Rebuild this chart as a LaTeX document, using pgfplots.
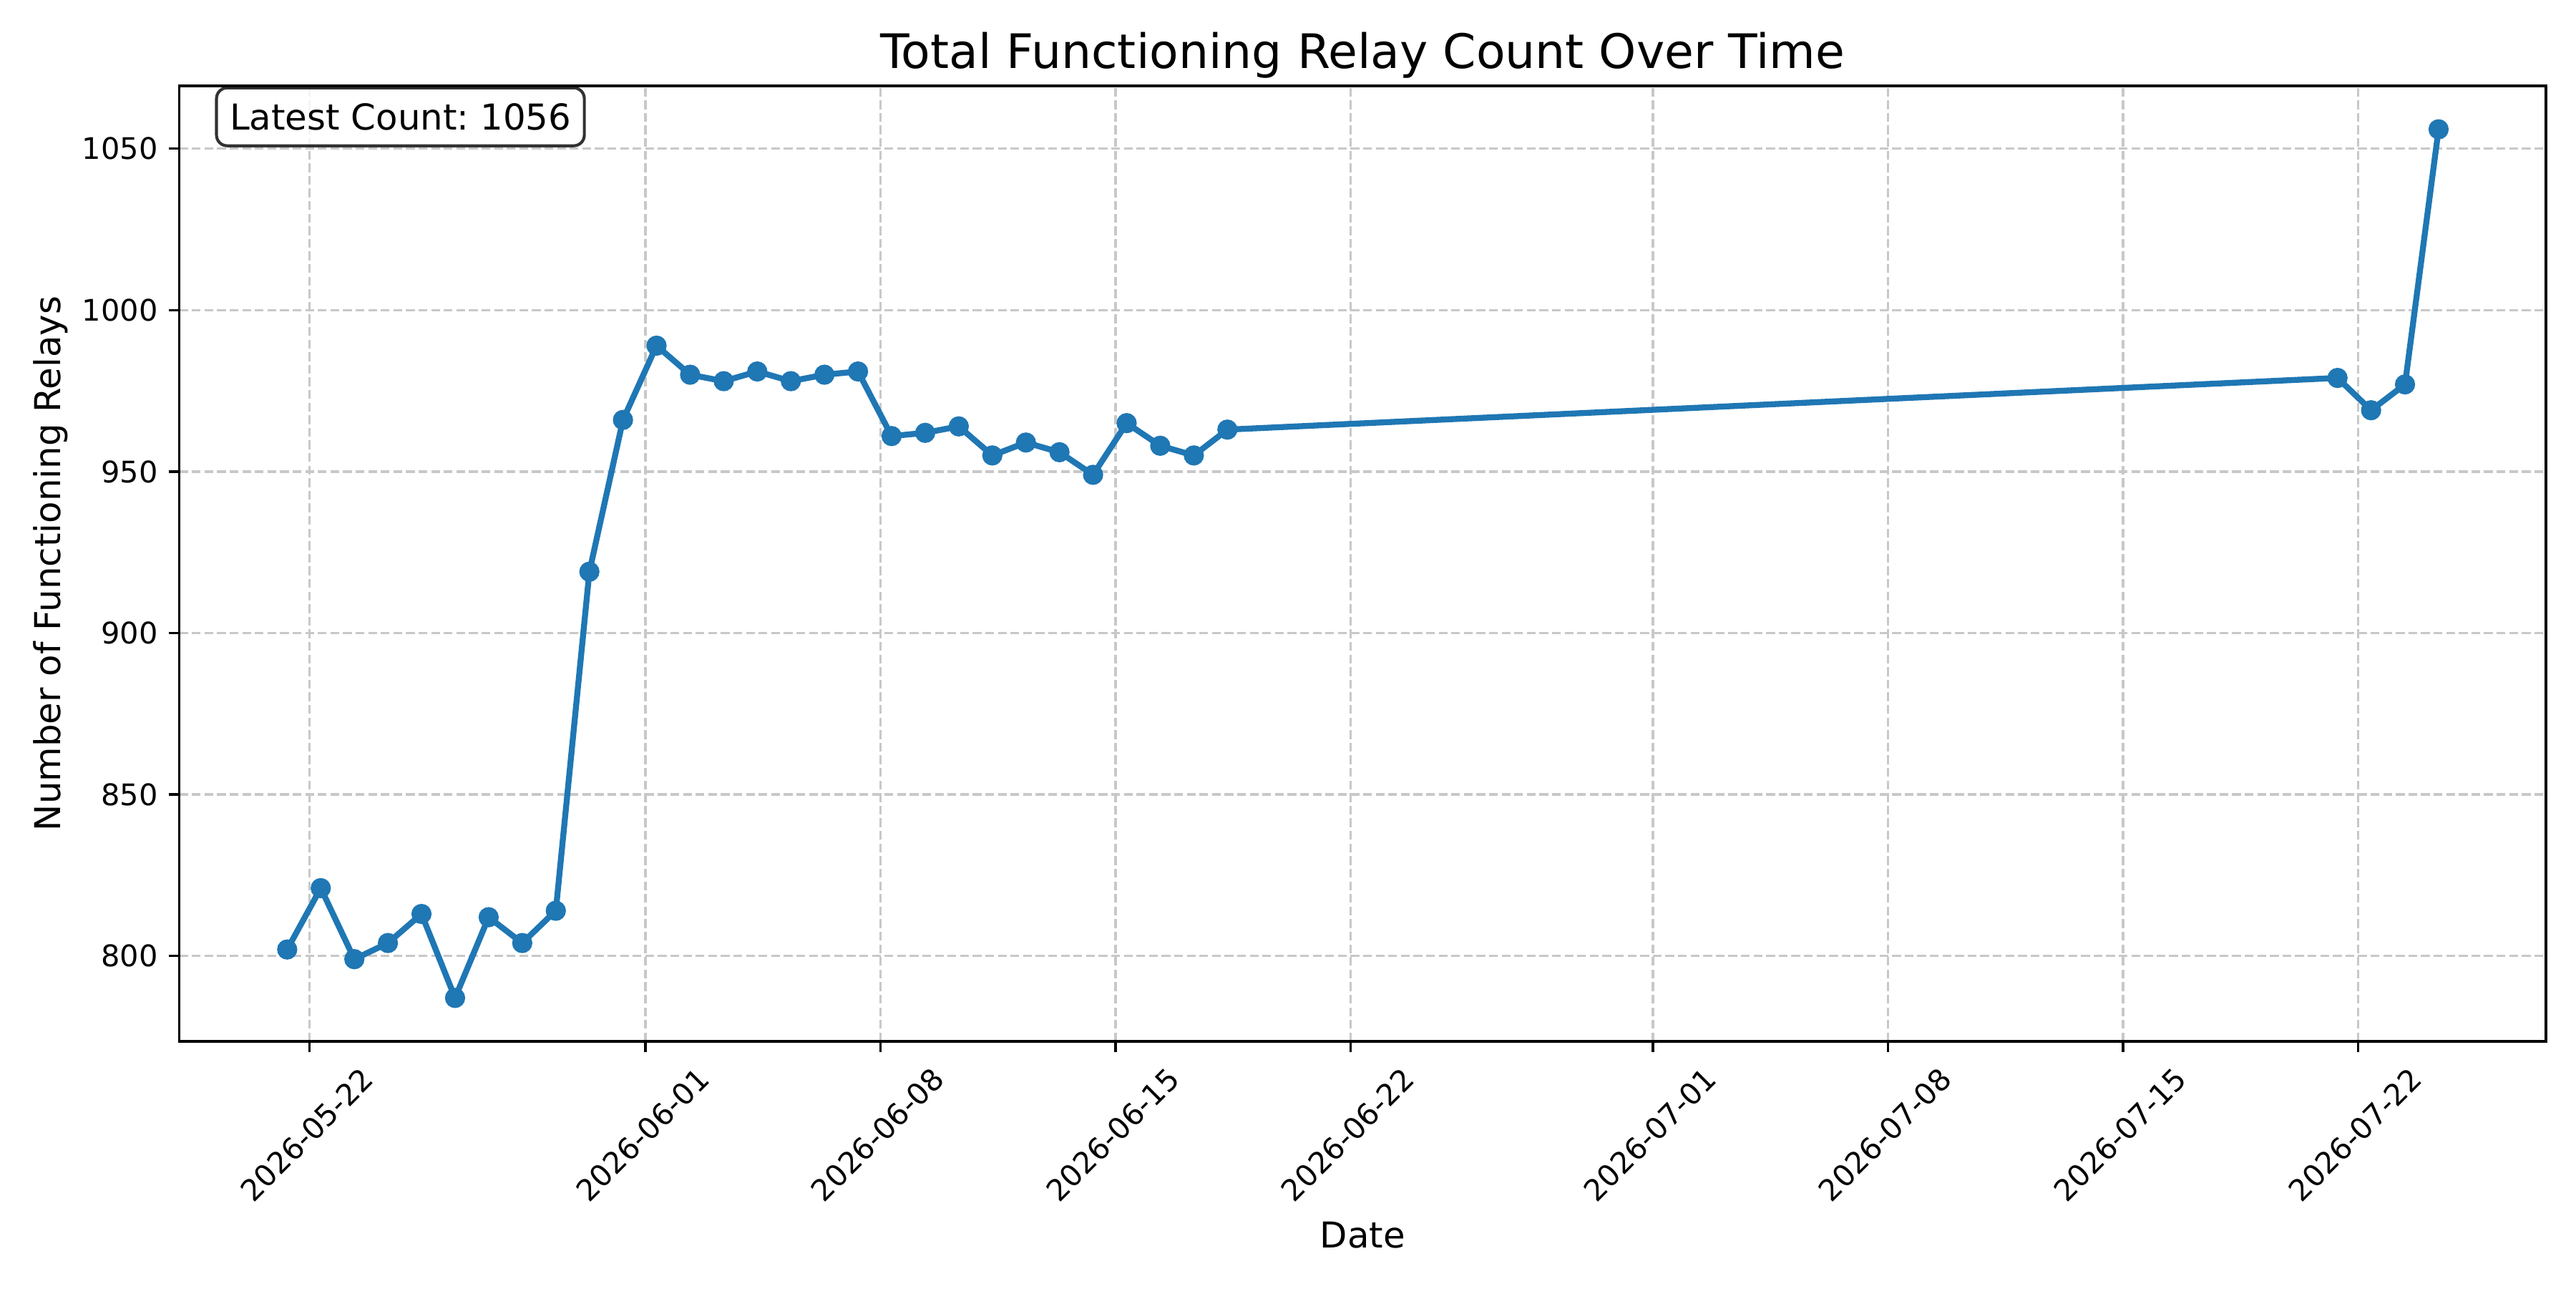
\documentclass[border=0pt]{standalone}
\usepackage{fontspec}
\setmainfont{DejaVu Sans}
\usepackage{pgfplots}
\pgfplotsset{compat=1.18}
\definecolor{mplblue}{HTML}{1F77B4}
\definecolor{gridgray}{HTML}{C8C8C8}
\frenchspacing

\begin{document}
\begin{tikzpicture}
% page: 12in x 6in
\useasboundingbox (0,0) rectangle (867.24pt,433.62pt);
\begin{axis}[
  at={(60.35pt,83.11pt)}, anchor=south west,
  width=796.8pt, height=321.6pt, scale only axis,
  xmin=-3.884, xmax=66.60, ymin=773.55, ymax=1069.45,
  % x = days since 2026-05-22
  xtick={0,10,17,24,31,40,47,54,61},
  xticklabels={2026-05-22,2026-06-01,2026-06-08,2026-06-15,2026-06-22,2026-07-01,2026-07-08,2026-07-15,2026-07-22},
  ytick={800,850,900,950,1000,1050},
  tick pos=left, tick align=outside,
  major tick length=3.5pt,
  every tick/.style={black, line width=0.8pt},
  axis line style={line width=0.8pt, black},
  grid=major,
  major grid style={gridgray, line width=0.8pt, dash pattern=on 2.96pt off 1.28pt},
  /pgf/number format/assume math mode=true,
  /pgf/number format/1000 sep={},
  tick label style={font=\fontsize{10}{12}\selectfont},
  yticklabel style={anchor=east, inner sep=0pt, xshift=-3.5pt},
  xticklabel style={yshift=-27.9pt, xshift=-1pt, rotate=45, anchor=center, inner sep=0pt},
  every axis title shift=0pt,
  title={Total Functioning Relay Count Over Time},
  title style={at={(axis description cs:0.5,1.01866)}, anchor=base, yshift=0pt, inner sep=0pt, font=\fontsize{16}{19}\selectfont},
  xlabel={Date},
  xlabel style={at={(axis description cs:0.5,-0.2164)}, anchor=base, inner sep=0pt, font=\fontsize{12}{14}\selectfont},
  ylabel={Number of Functioning Relays},
  ylabel style={at={(axis description cs:-0.05008,0.5)}, anchor=base, inner sep=0pt, font=\fontsize{12}{14}\selectfont},
]
\addplot[color=mplblue, line width=2pt, mark=*, mark size=3pt,
  mark options={solid, fill=mplblue, draw=mplblue, line width=0.8pt}] coordinates {
  (-0.67,802) (0.33,821) (1.33,799) (2.33,804) (3.33,813) (4.33,787)
  (5.33,812) (6.33,804) (7.33,814) (8.33,919) (9.33,966) (10.33,989)
  (11.33,980) (12.33,978) (13.33,981) (14.33,978) (15.33,980) (16.33,981)
  (17.33,961) (18.33,962) (19.33,964) (20.33,955) (21.33,959) (22.33,956)
  (23.33,949) (24.33,965) (25.33,958) (26.33,955) (27.33,963)
  (60.39,979) (61.39,969) (62.40,977) (63.40,1056)
};
\node[anchor=north west, draw=black, draw opacity=0.8, fill=white, fill opacity=0.8,
  text opacity=1, rounded corners=3.6pt, line width=1pt, inner xsep=4.45pt,
  inner ysep=0pt, minimum height=19.5pt, font=\fontsize{12}{14}\selectfont]
  at (rel axis cs:0.0151,0.9995) {Latest Count: 1056};
\end{axis}
\end{tikzpicture}
\end{document}
